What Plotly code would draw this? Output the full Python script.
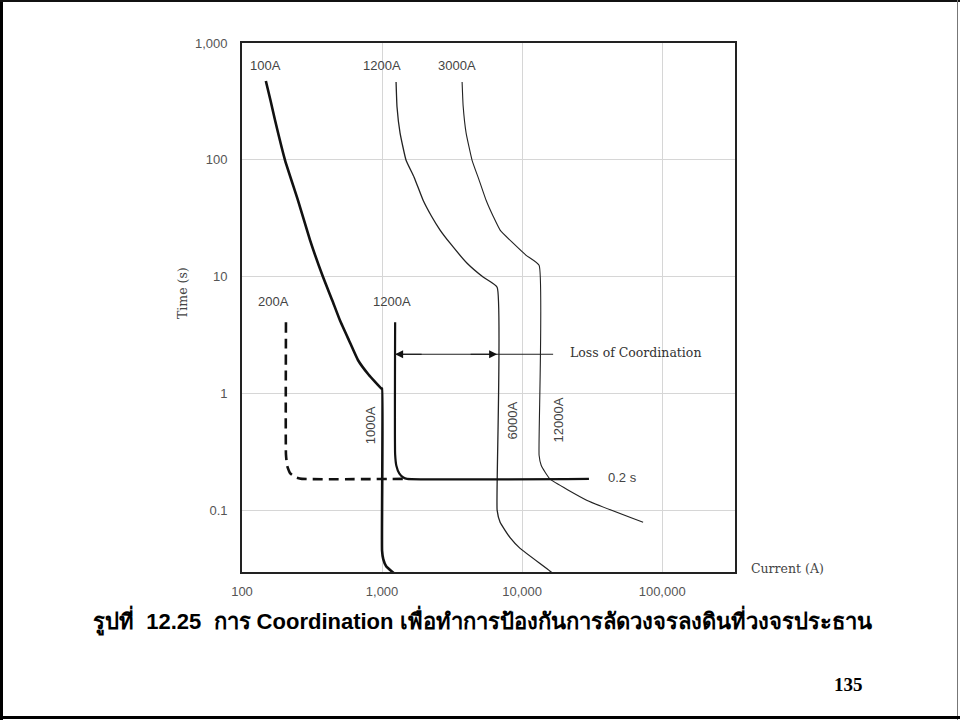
import math
import plotly.graph_objects as go

# ---- Time-current characteristics (current in A, time in s) ----
fuse_100A_I = [148, 160, 172, 203, 251, 306, 379, 440, 501, 580, 674, 800, 990, 1000, 1000, 1020, 1070, 1250]
fuse_100A_t = [472, 320, 219, 99, 45, 20.5, 9.9, 6.3, 4.2, 2.85, 1.92, 1.45, 1.1, 1.1, 0.045, 0.038, 0.033, 0.028]

relay_200A_I = [206, 206, 210, 222, 245, 268, 1500]
relay_200A_t = [4.06, 0.30, 0.24, 0.205, 0.19, 0.185, 0.185]

relay_1200A_I = [1240, 1240, 1265, 1330, 1420, 1510, 30000]
relay_1200A_t = [4.06, 0.30, 0.24, 0.205, 0.19, 0.185, 0.185]

fuse_1200A_I = [1259, 1279, 1344, 1484, 1693, 1964, 2250, 2596, 3060, 4047, 5264, 6630,
                6630, 6966, 8206, 9672, 15850, 17500]
fuse_1200A_t = [464, 283, 170, 99, 71, 45, 33, 25, 19.3, 13, 9.9, 8.1,
                0.1, 0.0786, 0.058, 0.047, 0.030, 0.027]

fuse_3000A_I = [3728, 3793, 3981, 4394, 4932, 5533, 6200, 6966, 8630, 10690, 13220,
                13220, 13680, 14600, 15850, 29130, 73100]
fuse_3000A_t = [464, 288, 170, 99, 67, 45, 33, 25, 19.3, 15.2, 12.5,
                0.295, 0.242, 0.211, 0.184, 0.121, 0.0786]

# span where the relays and fuses lose coordination
loss_I = [1240, 16650]
loss_t = [2.16, 2.16]
loss_arrow_I = [1240, 6630]

x_tickvals = [100, 1000, 10000, 100000]
x_ticktext = ["100", "1,000", "10,000", "100,000"]
y_tickvals = [0.1, 1, 10, 100, 1000]
y_ticktext = ["0.1", "1", "10", "100", "1,000"]

caption = "รูปที่  12.25  การ Coordination เพื่อทำการป้องกันการลัดวงจรลงดินที่วงจรประธาน"
page_no = "135"

L, R, T, B = 242, 225, 43, 148
W, H = 960, 720
PW, PH = W - L - R, H - T - B

def px(xp):
    return (xp - L) / PW

def py(yp):
    return (H - B - yp) / PH

lg = math.log10

fig = go.Figure()

def curve(I, t, width, dash="solid", color="#111111"):
    fig.add_trace(go.Scatter(x=I, y=t, mode="lines",
                             line=dict(color=color, width=width, dash=dash, shape="spline", smoothing=0.4),
                             hoverinfo="skip", showlegend=False))

curve(fuse_1200A_I, fuse_1200A_t, 1.3, color="#222222")
curve(fuse_3000A_I, fuse_3000A_t, 1.1, color="#222222")
curve(fuse_100A_I, fuse_100A_t, 2.6)
curve(relay_200A_I, relay_200A_t, 2.6, dash="10px,6px")
curve(relay_1200A_I, relay_1200A_t, 2.2)
curve(loss_I, loss_t, 1.0, color="#222222")

# arrowheads on the loss-of-coordination span
for head, off in zip(loss_arrow_I, [28, -28]):
    fig.add_annotation(x=lg(head), y=lg(loss_t[0]), ax=off, ay=0,
                       showarrow=True, arrowhead=2, arrowsize=1.6,
                       arrowwidth=1, arrowcolor="#111111", standoff=0, text="")

lab_font = dict(family="Liberation Sans", size=13, color="#444444")
serif_font = dict(family="DejaVu Serif", size=12.5, color="#333333")

labels = [
    ("100A", 148, 648, 0),
    ("1200A", 1000, 648, 0),
    ("3000A", 3436, 648, 0),
    ("200A", 169, 6.15, 0),
    ("1200A", 1178, 6.15, 0),
    ("1000A", 820, 0.533, -90),
    ("6000A", 8490, 0.587, -90),
    ("12000A", 18070, 0.587, -90),
]
for txt, xi, ti, ang in labels:
    fig.add_annotation(x=lg(xi), y=lg(ti), text=txt, showarrow=False,
                       xanchor="center", yanchor="middle",
                       textangle=ang, font=lab_font)

fig.add_annotation(x=lg(21330), y=lg(2.25), text="Loss of Coordination",
                   showarrow=False, xanchor="left", yanchor="middle", font=serif_font)
fig.add_annotation(x=lg(39800), y=lg(0.191), text="0.2 s", showarrow=False,
                   xanchor="left", yanchor="middle",
                   font=dict(family="Liberation Sans", size=13, color="#444444"))

# axis titles
fig.add_annotation(xref="paper", yref="paper", x=px(182), y=py(293), text="Time (s)",
                   textangle=-90, showarrow=False, xanchor="center", yanchor="middle",
                   font=dict(family="DejaVu Serif", size=12.5, color="#444444"))
fig.add_annotation(xref="paper", yref="paper", x=px(787), y=py(568), text="Current (A)",
                   showarrow=False, xanchor="center", yanchor="middle",
                   font=dict(family="DejaVu Serif", size=12.5, color="#444444"))

# caption and page number
fig.add_annotation(xref="paper", yref="paper", x=px(482), y=py(620), text="<b>" + caption + "</b>",
                   showarrow=False, xanchor="center", yanchor="middle",
                   font=dict(family="Liberation Sans", size=22, color="#000000"))
fig.add_annotation(xref="paper", yref="paper", x=px(848), y=py(684), text="<b>" + page_no + "</b>",
                   showarrow=False, xanchor="center", yanchor="middle",
                   font=dict(family="Liberation Serif", size=19, color="#000000"))

# page frame
frame = [
    (1.5, 0, 1.5, 720, 3, "#000000"),
    (0, 1, 960, 1, 2, "#111111"),
    (957.5, 0, 957.5, 720, 1, "#777777"),
    (0, 717.5, 960, 717.5, 3, "#000000"),
]
for x0, y0, x1, y1, w, c in frame:
    fig.add_shape(type="line", xref="paper", yref="paper",
                  x0=px(x0), y0=py(y0), x1=px(x1), y1=py(y1),
                  line=dict(color=c, width=w))

tick_font = dict(family="Liberation Sans", size=13, color="#555555")
fig.update_xaxes(type="log", range=[2, 5.52], tickvals=x_tickvals, ticktext=x_ticktext,
                 showgrid=True, gridcolor="#d6d6d6", gridwidth=1,
                 showline=True, linecolor="#222222", linewidth=1.8, mirror=True,
                 ticks="outside", ticklen=6, tickcolor="rgba(0,0,0,0)",
                 tickfont=tick_font, zeroline=False)
fig.update_yaxes(type="log", range=[math.log10(0.0295), 3], tickvals=y_tickvals, ticktext=y_ticktext,
                 showgrid=True, gridcolor="#d6d6d6", gridwidth=1,
                 showline=True, linecolor="#222222", linewidth=1.8, mirror=True,
                 ticks="outside", ticklen=10, tickcolor="rgba(0,0,0,0)",
                 tickfont=tick_font, zeroline=False)

fig.update_layout(width=W, height=H, margin=dict(l=L, r=R, t=T, b=B),
                  paper_bgcolor="white", plot_bgcolor="white", showlegend=False)

fig.write_html("out.html")
